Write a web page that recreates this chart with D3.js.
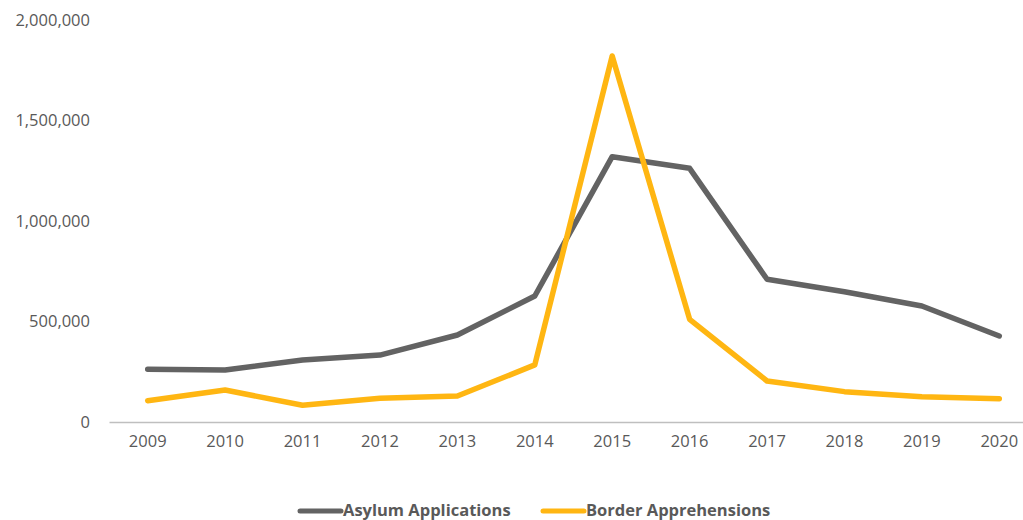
<!DOCTYPE html>
<html>
<head>
<meta charset="utf-8">
<title>Asylum Applications and Border Apprehensions</title>
<script src="https://d3js.org/d3.v7.min.js"></script>
<style>
  body { margin: 0; background: #fff; }
  svg { display: block; font-family: "Open Sans", "Liberation Sans", sans-serif; }
  .tick text { fill: #595959; font-size: 16.5px; font-family: "Open Sans", sans-serif; }
  .legend text { fill: #595959; font-size: 16.5px; font-weight: bold; font-family: "Open Sans", sans-serif; }
</style>
</head>
<body>
<div id="container"></div>
<script>
// ---- data ----
const years = ["2009","2010","2011","2012","2013","2014","2015","2016","2017","2018","2019","2020"];
const asylum = [262000, 259000, 308000, 333000, 433000, 627000, 1320000, 1262000, 710000, 648000, 577000, 428000];
const border = [106000, 159000, 83000, 118000, 129000, 284000, 1821000, 511000, 204000, 151000, 126000, 116000];
const yTicks = [0, 500000, 1000000, 1500000, 2000000];
const seriesNames = ["Asylum Applications", "Border Apprehensions"];
const colors = ["#636363", "#FFB612"];

const width = 1023, height = 520;
const svg = d3.select("#container").append("svg")
    .attr("width", width)
    .attr("height", height);

// scales
const x = d3.scaleBand().domain(years).range([109, 1038]);
const y = d3.scaleLinear().domain([0, 2000000]).range([422, 20]);

// y axis (labels only)
svg.append("g")
    .attr("transform", "translate(90,0)")
    .call(d3.axisLeft(y).tickValues(yTicks).tickFormat(d3.format(",")).tickSize(0).tickPadding(0))
    .call(g => g.select(".domain").remove());

// x axis
const xg = svg.append("g")
    .attr("transform", "translate(0," + y(0) + ")")
    .call(d3.axisBottom(x).tickSize(0).tickPadding(13));
xg.select(".domain").attr("stroke", "#bfbfbf").attr("stroke-width", 1.5);

// lines
const slices = [asylum, border].map((vals, i) => ({
    name: seriesNames[i],
    color: colors[i],
    values: vals.map((v, j) => ({ year: years[j], value: v }))
}));

const line = d3.line()
    .x(d => x(d.year) + x.bandwidth() / 2)
    .y(d => y(d.value));

svg.selectAll(".series")
    .data(slices)
    .enter()
    .append("path")
    .attr("class", "series")
    .attr("fill", "none")
    .attr("stroke", d => d.color)
    .attr("stroke-width", 5.5)
    .attr("stroke-linejoin", "round")
    .attr("stroke-linecap", "round")
    .attr("d", d => line(d.values));

// legend
const legendX = [300, 543];
const legend = svg.append("g").attr("class", "legend");
const items = legend.selectAll("g")
    .data(slices)
    .enter()
    .append("g")
    .attr("transform", (d, i) => "translate(" + legendX[i] + ",511)");
items.append("line")
    .attr("x1", 0).attr("x2", 41)
    .attr("stroke", d => d.color)
    .attr("stroke-width", 5)
    .attr("stroke-linecap", "round");
items.append("text")
    .attr("x", 43)
    .attr("y", 4.5)
    .text(d => d.name);
</script>
</body>
</html>
